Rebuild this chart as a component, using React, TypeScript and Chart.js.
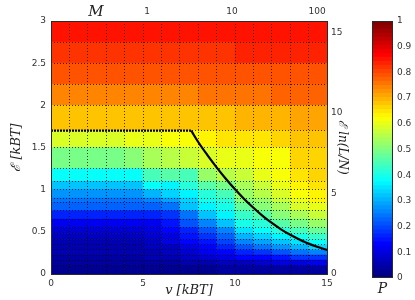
import React, { useEffect, useRef } from 'react';
import { Chart, registerables } from 'chart.js';

Chart.register(...registerables);

// ---- data ----
// column centres of the map (v in kBT)
const V_CENTERS = [0.5, 1.5, 2.5, 3.5, 4.5, 5.5, 6.5, 7.5, 8.5, 9.5, 10.5, 11.5, 12.5, 13.5, 14.5];
// column boundaries (dotted cell edges)
const V_EDGES = [0, 1, 2, 3, 4, 5, 6, 7, 8, 9, 10, 11, 12, 13, 14, 15];
// row boundaries (E in kBT), bottom to top
const ROW_EDGES = [0, 0.095, 0.165, 0.225, 0.285, 0.345, 0.41, 0.48, 0.55, 0.65, 0.75, 0.85, 0.9, 1.0, 1.1, 1.25, 1.5, 1.7, 2.0, 2.25, 2.5, 2.75, 3.0];

// probability P for each cell, one array per row (bottom row first), 15 columns each
const P_ROW_00 = [0.02, 0.02, 0.02, 0.02, 0.02, 0.02, 0.02, 0.02, 0.02, 0.03, 0.03, 0.03, 0.03, 0.03, 0.03];
const P_ROW_01 = [0.025, 0.025, 0.025, 0.025, 0.025, 0.03, 0.035, 0.04, 0.05, 0.06, 0.07, 0.08, 0.09, 0.1, 0.11];
const P_ROW_02 = [0.03, 0.03, 0.03, 0.03, 0.03, 0.04, 0.05, 0.06, 0.08, 0.1, 0.12, 0.13, 0.15, 0.17, 0.18];
const P_ROW_03 = [0.04, 0.04, 0.04, 0.04, 0.04, 0.05, 0.06, 0.08, 0.11, 0.13, 0.16, 0.18, 0.21, 0.24, 0.26];
const P_ROW_04 = [0.045, 0.045, 0.045, 0.045, 0.045, 0.06, 0.07, 0.1, 0.13, 0.16, 0.21, 0.24, 0.27, 0.3, 0.33];
const P_ROW_05 = [0.05, 0.05, 0.05, 0.05, 0.05, 0.07, 0.09, 0.12, 0.15, 0.19, 0.26, 0.29, 0.32, 0.35, 0.38];
const P_ROW_06 = [0.06, 0.06, 0.06, 0.06, 0.06, 0.08, 0.1, 0.14, 0.18, 0.22, 0.3, 0.33, 0.37, 0.39, 0.43];
const P_ROW_07 = [0.08, 0.08, 0.08, 0.08, 0.08, 0.09, 0.12, 0.16, 0.21, 0.26, 0.35, 0.38, 0.41, 0.44, 0.47];
const P_ROW_08 = [0.105, 0.105, 0.105, 0.105, 0.105, 0.11, 0.14, 0.2, 0.25, 0.32, 0.39, 0.42, 0.46, 0.49, 0.52];
const P_ROW_09 = [0.155, 0.155, 0.155, 0.155, 0.16, 0.16, 0.18, 0.24, 0.31, 0.36, 0.43, 0.46, 0.5, 0.54, 0.57];
const P_ROW_10 = [0.22, 0.22, 0.22, 0.22, 0.22, 0.22, 0.24, 0.32, 0.36, 0.4, 0.47, 0.5, 0.54, 0.58, 0.61];
const P_ROW_11 = [0.24, 0.24, 0.24, 0.24, 0.24, 0.26, 0.29, 0.34, 0.4, 0.42, 0.5, 0.53, 0.57, 0.61, 0.63];
const P_ROW_12 = [0.27, 0.27, 0.27, 0.27, 0.27, 0.3, 0.34, 0.37, 0.42, 0.45, 0.52, 0.55, 0.59, 0.62, 0.64];
const P_ROW_13 = [0.32, 0.32, 0.32, 0.32, 0.32, 0.38, 0.36, 0.42, 0.46, 0.49, 0.54, 0.57, 0.61, 0.64, 0.65];
const P_ROW_14 = [0.38, 0.38, 0.38, 0.38, 0.38, 0.44, 0.46, 0.45, 0.52, 0.55, 0.57, 0.6, 0.625, 0.65, 0.66];
const P_ROW_15 = [0.49, 0.49, 0.49, 0.49, 0.51, 0.54, 0.56, 0.57, 0.59, 0.6, 0.61, 0.615, 0.625, 0.66, 0.67];
const P_ROW_16 = [0.595, 0.595, 0.595, 0.595, 0.6, 0.61, 0.625, 0.625, 0.635, 0.65, 0.65, 0.655, 0.66, 0.68, 0.69];
const P_ROW_17 = [0.69, 0.69, 0.69, 0.69, 0.69, 0.69, 0.69, 0.69, 0.69, 0.69, 0.7, 0.7, 0.705, 0.71, 0.71];
const P_ROW_18 = [0.75, 0.75, 0.75, 0.75, 0.75, 0.75, 0.75, 0.75, 0.755, 0.755, 0.76, 0.765, 0.77, 0.77, 0.775];
const P_ROW_19 = [0.79, 0.79, 0.79, 0.79, 0.79, 0.79, 0.79, 0.79, 0.79, 0.79, 0.795, 0.8, 0.8, 0.8, 0.8];
const P_ROW_20 = [0.83, 0.83, 0.83, 0.83, 0.83, 0.83, 0.83, 0.83, 0.83, 0.83, 0.835, 0.835, 0.835, 0.835, 0.835];
const P_ROW_21 = [0.86, 0.86, 0.86, 0.86, 0.86, 0.86, 0.86, 0.86, 0.86, 0.86, 0.86, 0.86, 0.86, 0.86, 0.86];

const P_ROWS = [
  P_ROW_00, P_ROW_01, P_ROW_02, P_ROW_03, P_ROW_04, P_ROW_05, P_ROW_06, P_ROW_07,
  P_ROW_08, P_ROW_09, P_ROW_10, P_ROW_11, P_ROW_12, P_ROW_13, P_ROW_14, P_ROW_15,
  P_ROW_16, P_ROW_17, P_ROW_18, P_ROW_19, P_ROW_20, P_ROW_21,
];

// boundary line: dotted plateau then solid curve
const PLATEAU_V = [0, 7.62];
const PLATEAU_E = [1.7, 1.7];
const CURVE_V = [7.62, 8.0, 8.5, 9.0, 9.5, 10.0, 10.5, 11.0, 11.5, 12.0, 12.5, 13.0, 13.5, 14.0, 14.5, 15.0];
const CURVE_E = [1.7, 1.565, 1.41, 1.265, 1.13, 1.005, 0.89, 0.785, 0.69, 0.605, 0.53, 0.465, 0.41, 0.36, 0.32, 0.285];

// tick labels
const X_TICKS = [0, 5, 10, 15];
const Y_TICKS = [0, 0.5, 1, 1.5, 2, 2.5, 3];
const M_TICKS = [1, 10, 100];
const R_TICKS = [0, 5, 10, 15];
const CB_TICKS = [0, 0.1, 0.2, 0.3, 0.4, 0.5, 0.6, 0.7, 0.8, 0.9, 1];

const CB_LEVELS = 64;

// ---- helpers ----
function jet(p: number): string {
  const q = Math.round(Math.max(0, Math.min(1, p)) * (CB_LEVELS - 1)) / (CB_LEVELS - 1);
  const c = (t: number) => Math.round(255 * Math.max(0, Math.min(1, 1.5 - Math.abs(4 * q - t))));
  return `rgb(${c(3)},${c(2)},${c(1)})`;
}

const TICK_FONT = { family: 'DejaVu Sans', size: 9 };
const TICK_COLOR = '#333333';
const AXIS_COLOR = '#2a2a2a';
const GRID_COLOR = 'rgba(0,0,0,0.75)';
const TITLE_FONT = { family: 'DejaVu Serif', style: 'italic' as const, size: 13 };

export default function App() {
  const mainRef = useRef<HTMLCanvasElement>(null);
  const cbRef = useRef<HTMLCanvasElement>(null);

  useEffect(() => {
    const rowDatasets = P_ROWS.map((row, k) => ({
      type: 'bar' as const,
      label: `row ${k}`,
      data: V_CENTERS.map((v) => ({ x: v, y: [ROW_EDGES[k], ROW_EDGES[k + 1]] })),
      backgroundColor: row.map(jet),
      borderWidth: 0,
      grouped: false,
      barPercentage: 1,
      categoryPercentage: 1,
      xAxisID: 'x',
      yAxisID: 'y',
      order: 2,
    }));

    const mLabelPlugin = {
      id: 'mLabel',
      afterDraw(chart: any) {
        const { ctx, chartArea } = chart;
        ctx.save();
        ctx.font = 'italic 15px "DejaVu Serif"';
        ctx.fillStyle = '#222';
        ctx.textAlign = 'center';
        ctx.textBaseline = 'middle';
        ctx.fillText('M', chartArea.left + 45, chartArea.top - 9);
        ctx.restore();
      },
    };

    const main = new Chart(mainRef.current!, {
      type: 'bar',
      data: {
        datasets: [
          ...rowDatasets,
          {
            type: 'line' as const,
            label: 'plateau',
            data: PLATEAU_V.map((v, i) => ({ x: v, y: PLATEAU_E[i] })),
            borderColor: '#000',
            borderWidth: 2.2,
            borderDash: [2, 1],
            pointRadius: 0,
            fill: false,
            xAxisID: 'x',
            yAxisID: 'y',
            order: 0,
          },
          {
            type: 'line' as const,
            label: 'curve',
            data: CURVE_V.map((v, i) => ({ x: v, y: CURVE_E[i] })),
            borderColor: '#000',
            borderWidth: 2.2,
            pointRadius: 0,
            cubicInterpolationMode: 'monotone' as const,
            fill: false,
            xAxisID: 'x',
            yAxisID: 'y',
            order: 0,
          },
        ] as any,
      },
      options: {
        responsive: false,
        animation: false,
        events: [],
        layout: { padding: { left: 0, top: 0, right: 55, bottom: 0 } },
        plugins: { legend: { display: false }, tooltip: { enabled: false } },
        scales: {
          x: {
            type: 'linear',
            position: 'bottom',
            offset: false,
            min: 0,
            max: 15,
            afterBuildTicks: (s: any) => { s.ticks = V_EDGES.map((v) => ({ value: v })); },
            ticks: {
              autoSkip: false,
              maxRotation: 0,
              padding: 4,
              font: TICK_FONT,
              color: TICK_COLOR,
              callback: (v: any) => (X_TICKS.includes(Number(v)) ? String(v) : ''),
            },
            grid: { offset: false, color: GRID_COLOR, lineWidth: 1, drawTicks: false, z: 1 },
            border: { display: true, color: AXIS_COLOR, width: 1, dash: [1, 2], z: 2 },
            title: { display: true, text: 'v [kBT]', font: TITLE_FONT, color: '#222', padding: { top: 0, bottom: 2 } },
            afterFit: (s: any) => { s.height = 26; },
          } as any,
          xTop: {
            type: 'logarithmic',
            position: 'top',
            offset: false,
            min: 0.0743,
            max: 131,
            afterBuildTicks: (s: any) => { s.ticks = M_TICKS.map((v) => ({ value: v })); },
            ticks: { padding: 4, font: TICK_FONT, color: TICK_COLOR, callback: (v: any) => String(v) },
            grid: { display: false, drawTicks: false },
            border: { display: true, color: AXIS_COLOR, width: 1, z: 2 },
            afterFit: (s: any) => { s.height = 21; },
          } as any,
          y: {
            type: 'linear',
            position: 'left',
            min: 0,
            max: 3,
            afterBuildTicks: (s: any) => { s.ticks = Y_TICKS.map((v) => ({ value: v })); },
            ticks: { padding: 5, font: TICK_FONT, color: TICK_COLOR, callback: (v: any) => String(v) },
            grid: { display: false, drawTicks: false },
            border: { display: true, color: AXIS_COLOR, width: 1, z: 2 },
            title: { display: true, text: 'ℰ [kBT]', font: TITLE_FONT, color: '#222', padding: { top: 9, bottom: 0 } },
            afterFit: (s: any) => { s.width = 51; },
          } as any,
          yGrid: {
            type: 'linear',
            position: 'left',
            display: true,
            min: 0,
            max: 3,
            afterBuildTicks: (s: any) => { s.ticks = ROW_EDGES.map((v) => ({ value: v })); },
            ticks: { display: false },
            grid: { color: GRID_COLOR, lineWidth: 1, drawTicks: false, z: 1 },
            border: { display: false, dash: [1, 2] },
            afterFit: (s: any) => { s.width = 0; },
          } as any,
          yR: {
            type: 'linear',
            position: 'right',
            min: 0,
            max: 15.7,
            afterBuildTicks: (s: any) => { s.ticks = R_TICKS.map((v) => ({ value: v })); },
            ticks: { padding: 4, font: TICK_FONT, color: TICK_COLOR, callback: (v: any) => String(v) },
            grid: { display: false, drawTicks: false },
            border: { display: true, color: AXIS_COLOR, width: 1, z: 2 },
            title: {
              display: true,
              text: 'ℰ ln(L/N)',
              font: { family: 'DejaVu Serif', style: 'italic', size: 12 },
              color: '#222',
              padding: { top: 11, bottom: 0 },
            },
            afterFit: (s: any) => { s.width = 33; },
          } as any,
        },
      },
      plugins: [mLabelPlugin],
    });

    const cbBorderPlugin = {
      id: 'cbBorder',
      afterDatasetsDraw(chart: any) {
        const { ctx, chartArea } = chart;
        ctx.save();
        ctx.strokeStyle = AXIS_COLOR;
        ctx.lineWidth = 1;
        ctx.strokeRect(
          Math.round(chartArea.left) + 0.5,
          Math.round(chartArea.top) + 0.5,
          Math.round(chartArea.right - chartArea.left) - 1,
          Math.round(chartArea.bottom - chartArea.top) - 1,
        );
        ctx.restore();
      },
    };

    const levels = Array.from({ length: CB_LEVELS }, (_, i) => i);
    const cb = new Chart(cbRef.current!, {
      type: 'bar',
      data: {
        labels: ['P'],
        datasets: levels.map((i) => ({
          label: `level ${i}`,
          data: [[i / CB_LEVELS, (i + 1) / CB_LEVELS]],
          backgroundColor: jet(i / (CB_LEVELS - 1)),
          borderWidth: 0,
          grouped: false,
          barPercentage: 1,
          categoryPercentage: 1,
        })) as any,
      },
      options: {
        responsive: false,
        animation: false,
        events: [],
        layout: { padding: { left: 12, top: 21, right: 0, bottom: 0 } },
        plugins: { legend: { display: false }, tooltip: { enabled: false } },
        scales: {
          x: {
            type: 'category',
            ticks: { display: false },
            grid: { display: false, drawTicks: false },
            border: { display: false },
            title: {
              display: true,
              text: 'P',
              font: { family: 'DejaVu Serif', style: 'italic', size: 14 },
              color: '#222',
              padding: { top: 0, bottom: 2 },
            },
            afterFit: (s: any) => { s.height = 22; },
          } as any,
          y: {
            type: 'linear',
            position: 'right',
            min: 0,
            max: 1,
            afterBuildTicks: (s: any) => { s.ticks = CB_TICKS.map((v) => ({ value: v })); },
            ticks: { padding: 4, font: TICK_FONT, color: TICK_COLOR, callback: (v: any) => String(v) },
            grid: { display: false, drawTicks: false },
            border: { display: false },
            afterFit: (s: any) => { s.width = 22; },
          } as any,
        },
      },
      plugins: [cbBorderPlugin],
    });

    return () => {
      main.destroy();
      cb.destroy();
    };
  }, []);

  return (
    <div style={{ position: 'fixed', left: 0, top: 0, width: 415, height: 300, background: '#ffffff' }}>
      <canvas ref={mainRef} width={415} height={300} style={{ position: 'absolute', left: 0, top: 0 }} />
      <canvas ref={cbRef} width={55} height={300} style={{ position: 'absolute', left: 360, top: 0 }} />
    </div>
  );
}
